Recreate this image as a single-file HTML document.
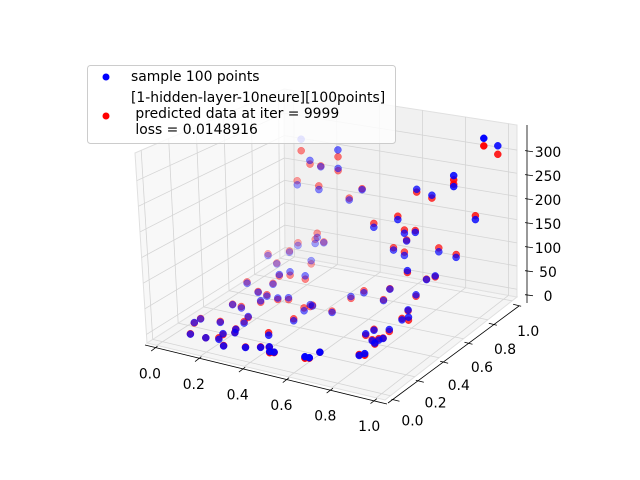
<!DOCTYPE html>
<html><head><meta charset="utf-8"><style>
html,body{margin:0;padding:0;background:#fff;}
svg{display:block;font-family:"DejaVu Sans","Liberation Sans",sans-serif;}
</style></head><body>
<svg id="chart" width="640" height="480" viewBox="0 0 640 480" xmlns="http://www.w3.org/2000/svg">
<g id="panes"></g>
<g id="grid"></g>
<g id="axes"></g>
<g id="pts"></g>
<g id="legend">
<rect x="87.5" y="65.5" width="308" height="78" rx="3" fill="rgba(255,255,255,0.8)" stroke="#cccccc" stroke-width="1"/>
<circle cx="106" cy="77" r="3.5" fill="#0000ff"/>
<text x="131" y="81" font-size="13.9" fill="#000">sample 100 points</text>
<circle cx="106" cy="116" r="3.5" fill="#ff0000"/>
<text font-size="13.9" fill="#000" xml:space="preserve"><tspan x="131" y="102">[1-hidden-layer-10neure][100points]</tspan><tspan x="131" y="118"> predicted data at iter = 9999</tspan><tspan x="131" y="134"> loss = 0.0148916</tspan></text>
</g>
</svg>
<script>
const xs = [.12,.29,.16,.21,.29,.10,.23,.43,.37,.71,.78,.88,.88,.99,1.0,.98,.57,.68,.71,.76,.72,.66,.71,.84,.92,.78,.84,.88,.25,.24,.28,.16,.15,.08,.12,.25,.24,.22,.31,.19,.10,.18,.22,.22,.27,.29,.12,.16,.22,.23,.39,.40,.39,.40,.49,.58,.52,.70,.67,.82,.84,.87,.84,.81,.74,.73,.81,.79,.80,.76,.81,.785,.06,.06,.15,.10,.17,.22,.25,.275,.23,.28,.38,.40,.42,.46,.49,.51,.65,.67,.69];
const ys = [.9,.9,.9,.9,.9,.9,.85,.85,.85,.8,.8,.8,.8,.85,.95,.8,.7,.7,.7,.7,.7,.7,.7,.75,.75,.6,.65,.65,.8,.8,.8,.8,.75,.7,.7,.75,.6,.55,.6,.55,.5,.45,.45,.4,.45,.5,.35,.35,.3,.25,.5,.5,.45,.35,.5,.6,.6,.6,.6,.6,.5,.45,.45,.4,.4,.35,.35,.35,.3,.35,.2,.2,.2,.15,.2,.05,.05,.1,.15,.1,.05,0,0,.15,.05,.05,0,0,0,0,.05];
const zs = [275,265,232,222,225,174,182,198,171,229,222,271,248,350,320,187,154,179,153,159,138,114,107,117,112,99,77,88,89,75,80,64,57,52,38,48,49,50,47,27,29,26,22,21,23,17,12,9,6,2,12,10,8,6,5,36,23,54,28,53,42,39,31,18,10,11,9,4,8,0,6,0,2,3,4,0,0,5,8,12,3,3,10,11,6,11,13,14,19,19,23];
const zpred = [250,250,224,224,220,183,190,200,175,223,216,262,253,334,302,195,162,186,160,163,140,119,114,125,118,95,78,86,98,84,82,70,60,56,40,41,42,47,40,29,32,28,25,18,20,13,13,12,4,5,8,12,14,10,8,40,19,55,30,50,40,33,34,14,12,8,10,7,6,2,3,2,3,2,6,1,0,3,9,13,6,4,11,16,7,10,11,13,16,18,23];
const xTicks = [0,0.2,0.4,0.6,0.8,1.0];
const xTickLabels = ["0.0","0.2","0.4","0.6","0.8","1.0"];
const yTicks = [0,0.2,0.4,0.6,0.8,1.0];
const yTickLabels = ["0.0","0.2","0.4","0.6","0.8","1.0"];
const zTicks = [0,50,100,150,200,250,300];
const zTickLabels = ["0","50","100","150","200","250","300"];

const XMIN=-0.045, XMAX=1.04, YMIN=-0.045, YMAX=1.04, ZMIN=-16.7, ZMAX=354;
const F00=[147,343],F10=[385,400],F11=[517,297],F01=[285,255];
const T00=[135,153],T10=[390,200],T11=[517,125],T01=[284,89];
function lerp(a,b,t){return [a[0]+(b[0]-a[0])*t,a[1]+(b[1]-a[1])*t];}
function projN(u,v,w){
  const f=lerp(lerp(F00,F10,u),lerp(F01,F11,u),v);
  const t=lerp(lerp(T00,T10,u),lerp(T01,T11,u),v);
  return lerp(f,t,w);
}
function nu(x){return (x-XMIN)/(XMAX-XMIN);}
function nv(y){return (y-YMIN)/(YMAX-YMIN);}
function nw(z){return (z-ZMIN)/(ZMAX-ZMIN);}
function proj(x,y,z){return projN(nu(x),nv(y),nw(z));}
function zAxisPos(z){return [527, 303-178*nw(z)];}
const NS="http://www.w3.org/2000/svg";
function mk(tag,attrs,parent){const e=document.createElementNS(NS,tag);for(const k in attrs)e.setAttribute(k,attrs[k]);parent.appendChild(e);return e;}
function pts(arr){return arr.map(p=>p[0].toFixed(1)+","+p[1].toFixed(1)).join(" ");}

const panes=document.getElementById('panes');
let p;
p=mk('polygon',{points:pts([projN(0,0,0),projN(1,0,0),projN(1,1,0),projN(0,1,0)]),fill:'#f5f5f5',stroke:'#e0e0e0'},panes);


p=mk('polygon',{points:pts([projN(0,0,0),projN(0,1,0),projN(0,1,1),projN(0,0,1)]),fill:'#f8f8f8',stroke:'#e0e0e0'},panes);


p=mk('polygon',{points:pts([projN(0,1,0),projN(1,1,0),projN(1,1,1),projN(0,1,1)]),fill:'#f1f1f1',stroke:'#e0e0e0'},panes);



const grid=document.getElementById('grid');
function gl(a,b,name){const l=mk('line',{x1:a[0],y1:a[1],x2:b[0],y2:b[1],stroke:'#d4d4d4','stroke-width':0.8},grid);}
xTicks.forEach(t=>{const u=nu(t);gl(projN(u,0,0),projN(u,1,0),'grid-x-floor');gl(projN(u,1,0),projN(u,1,1),'grid-x-back');});
yTicks.forEach(t=>{const v=nv(t);gl(projN(0,v,0),projN(1,v,0),'grid-y-floor');gl(projN(0,v,0),projN(0,v,1),'grid-y-left');});
zTicks.forEach(t=>{const w=nw(t);gl(projN(0,0,w),projN(0,1,w),'grid-z-left');gl(projN(0,1,w),projN(1,1,w),'grid-z-back');});

const axes=document.getElementById('axes');
function al(a,b,name){const l=mk('line',{x1:a[0],y1:a[1],x2:b[0],y2:b[1],stroke:'#000','stroke-width':0.8},axes);}
function tx(x,y,s,name,anchor){const e=mk('text',{x:x,y:y,'font-size':13.9,'text-anchor':anchor||'middle','dominant-baseline':'central',fill:'#000'},axes);e.textContent=s;}
// x axis
let a0=projN(0,0,0),a1=projN(1,0,0);
al([a0[0]-2,a0[1]+2],[a1[0]+2,a1[1]+4],'x-axis-line');
xTicks.forEach((t,i)=>{const q=proj(t,YMIN,ZMIN);const b=[q[0]-1,q[1]+2];
  al([b[0]+1.6,b[1]-1.2],[b[0]-4.7,b[1]+3.7],'x-tick');
  tx(q[0]-7,q[1]+29,xTickLabels[i],'x-tick-label');});
// y axis
a0=projN(1,0,0);a1=projN(1,1,0);
al([a0[0]+3,a0[1]+3],[a1[0]+2,a1[1]+9],'y-axis-line');
yTicks.forEach((t,i)=>{const q=proj(XMAX,t,ZMIN);const b=[q[0]+3,q[1]+4];
  al([b[0]-2,b[1]-0.5],[b[0]+6,b[1]+1.5],'y-tick');
  tx(q[0]+22-6*t,q[1]+26+5*t,yTickLabels[i],'y-tick-label');});
// z axis
a0=zAxisPos(ZMIN);a1=zAxisPos(ZMAX);
al(a0,a1,'z-axis-line');
zTicks.forEach((t,i)=>{const b=zAxisPos(t);
  al([b[0]-2,b[1]-0.3],[b[0]+6,b[1]+0.8],'z-tick');
  tx(b[0]+21,b[1]+2,zTickLabels[i],'z-tick-label');});

// points with depth shading
const g=document.getElementById('pts');
function depth(x,y,z){return -(0.433*nu(x)-0.75*nv(y)+0.5*nw(z));}
function draw(zarr,color,name){
  const d=xs.map((x,i)=>depth(x,ys[i],zarr[i]));
  const mn=Math.min(...d),mx=Math.max(...d);
  const idx=xs.map((_,i)=>i).sort((i,j)=>d[j]-d[i]);
  idx.forEach(i=>{const q=proj(xs[i],ys[i],zarr[i]);const al=1-0.7*(d[i]-mn)/(mx-mn);
    const c=mk('circle',{cx:q[0].toFixed(1),cy:q[1].toFixed(1),r:3.5,fill:color,'fill-opacity':al.toFixed(2),stroke:color,'stroke-opacity':al.toFixed(2),'stroke-width':0.5},g);
    
    
  });
}
draw(zpred,'#ff0000','predicted-point');
draw(zs,'#0000ff','sample-point');
</script>
</body></html>
